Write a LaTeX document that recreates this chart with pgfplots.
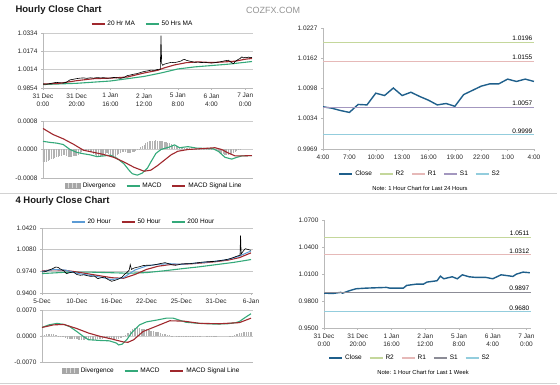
\documentclass[border=0pt]{standalone}
\usepackage{fontspec}
\setmainfont{Liberation Sans}
\usepackage{pgfplots}
\pgfplotsset{compat=1.18}
\definecolor{mared}{HTML}{A0282D}
\definecolor{magreen}{HTML}{34A97A}
\definecolor{mablue}{HTML}{5B9BD5}
\definecolor{closeblue}{HTML}{1F5F8B}
\definecolor{rtwo}{HTML}{C4D79B}
\definecolor{rone}{HTML}{E6B9B8}
\definecolor{sone}{HTML}{A397BF}
\definecolor{sonegray}{HTML}{8C8C96}
\definecolor{stwo}{HTML}{93CDDD}
\pgfplotsset{
  cz/.style={scale only axis, anchor=north west,
    axis x line*=bottom, axis y line*=left,
    axis line style={-,gray!55,line width=0.5pt},
    every tick/.style={gray!55, line width=0.5pt},
    tick align=outside, major tick length=2pt,
    scaled y ticks=false, scaled x ticks=false,
    ticklabel style={font=\fontsize{6.5}{8.6}\selectfont, text=black!85},
    xticklabel style={align=center},
    legend columns=-1,
    legend style={draw=none, fill=none, inner sep=1pt, font=\fontsize{6.5}{7}\selectfont,
      /tikz/every even column/.append style={column sep=8pt}},
    legend image code/.code={\draw[##1, line width=1.8pt] (0pt,0pt) -- (13pt,0pt);},
    grid style={gray!40, line width=0.5pt},
  },
  divleg/.style={legend image code/.code={\fill[gray!70] (0pt,-2.5pt) rectangle (15pt,2.5pt);
      \draw[gray!30, line width=0.5pt] (3pt,-2.5pt) -- (3pt,2.5pt) (7pt,-2.5pt) -- (7pt,2.5pt) (11pt,-2.5pt) -- (11pt,2.5pt);}},
}
\begin{document}
\begin{tikzpicture}[x=1pt,y=1pt]
\useasboundingbox (0,0) rectangle (560,385);
\node[anchor=west, font=\fontsize{9.5}{11}\bfseries\selectfont, text=black!90] at (12,375) {Hourly Close Chart};
\node[anchor=west, font=\fontsize{9}{11}\selectfont, text=gray!85, inner sep=0pt] at (246,375) {COZFX.COM};
\node[anchor=west, font=\fontsize{9.5}{11}\bfseries\selectfont, text=black!90] at (12,184) {4 Hourly Close Chart};
\draw[gray!35, line width=0.6pt] (0,192) -- (557,192);
\draw[gray!35, line width=0.6pt] (0,2) -- (557,2);

% ---------------- top-left price
\begin{axis}[cz, at={(43pt,352pt)}, width=210pt, height=55pt,
  xmin=0, xmax=124.6, ymin=0.9854, ymax=1.0334,
  ytick={0.9854,1.0014,1.0174,1.0334}, yticklabels={0.9854,1.0014,1.0174,1.0334},
  ymajorgrids,
  xtick={0,20,40,60,80,100,120},
  xticklabels={{31 Dec\\0:00},{31 Dec\\20:00},{1 Jan\\16:00},{2 Jan\\12:00},{5 Jan\\8:00},{6 Jan\\4:00},{7 Jan\\0:00}},
  legend style={at={(0.474,1.164)}, anchor=center}]
\addplot[magreen, line width=1.1pt, forget plot] coordinates {(0,0.9884)(20,0.9895)(40,0.9915)(60,0.9955)(70,0.9985)(80,1.0020)(90,1.0038)(100,1.0050)(110,1.0062)(124,1.0085)};
\addplot[mared, line width=1.1pt, forget plot] coordinates {(0,0.9888)(10,0.9895)(20,0.9918)(30,0.9935)(40,0.9940)(50,0.9950)(60,0.9985)(68,1.0008)(72,1.0030)(78,1.0055)(85,1.0075)(92,1.0082)(100,1.0076)(108,1.0082)(114,1.0088)(120,1.0105)(124,1.0112)};
\addplot[black, line width=0.6pt, forget plot] coordinates {(0,0.9889)(2,0.9887)(4,0.9892)(6,0.9898)(8,0.9903)(10,0.9900)(12,0.9897)(14,0.9905)(16,0.9925)(18,0.9930)(20,0.9936)(22,0.9940)(24,0.9942)(26,0.9938)(28,0.9943)(30,0.9940)(32,0.9945)(34,0.9942)(36,0.9944)(38,0.9940)(40,0.9941)(42,0.9946)(44,0.9943)(46,0.9938)(48,0.9945)(50,0.9962)(52,0.9968)(54,0.9975)(56,0.9980)(58,0.9990)(60,0.9998)(62,1.0003)(64,1.0010)(66,1.0008)(68,1.0016)(69.6,1.0018)(70,1.0311)(70.4,1.0070)(71,1.0052)(72,1.0062)(74,1.0070)(76,1.0078)(78,1.0075)(80,1.0082)(82,1.0090)(83,1.0100)(84,1.0104)(85,1.0096)(86,1.0092)(88,1.0085)(90,1.0078)(92,1.0080)(94,1.0076)(96,1.0078)(98,1.0074)(100,1.0072)(102,1.0075)(104,1.0080)(106,1.0085)(108,1.0092)(110,1.0096)(111,1.0085)(112,1.0075)(113,1.0066)(114,1.0085)(116,1.0105)(117,1.0112)(118,1.0126)(119,1.0116)(120,1.0122)(121,1.0118)(122,1.0124)(123,1.0119)(124,1.0121)};
\addlegendimage{mared}\addlegendentry{20 Hr MA}
\addlegendimage{magreen}\addlegendentry{50 Hrs MA}
\end{axis}

% ---------------- top-left MACD
\begin{axis}[cz, at={(43pt,264pt)}, width=210pt, height=57pt,
  xmin=0, xmax=124.6, ymin=-0.0008, ymax=0.0008, xtick=\empty,
  ytick={-0.0008,0,0.0008}, yticklabels={-0.0008,0.0000,0.0008}, ymajorgrids,
  legend style={at={(0.529,-0.14)}, anchor=center}]
\addplot[ycomb, gray!60, line width=1.1pt, divleg] coordinates {(0,-0.00036)(1,-0.00035)(2,-0.00034)(3,-0.00032)(4,-0.00030)(5,-0.00028)(6,-0.00026)(7,-0.00024)(8,-0.00022)(9,-0.00020)(10,-0.00018)(11,-0.00017)(12,-0.00016)(13,-0.00015)(14,-0.00019)(15,-0.00020)(16,-0.00021)(17,-0.00020)(18,-0.00019)(19,-0.00018)(20,-0.00017)(21,-0.00015)(22,-0.00012)(23,-0.00008)(24,-0.00005)(25,-0.00003)(26,-0.00002)(27,-0.00003)(28,-0.00005)(29,-0.00008)(30,-0.00012)(31,-0.00016)(32,-0.00020)(33,-0.00022)(34,-0.00021)(35,-0.00019)(36,-0.00016)(37,-0.00013)(38,-0.00010)(39,-0.00014)(40,-0.00018)(41,-0.00022)(42,-0.00023)(43,-0.00020)(44,-0.00016)(45,-0.00012)(46,-0.00009)(47,-0.00007)(48,-0.00006)(49,-0.00008)(50,-0.00010)(51,-0.00011)(52,-0.00010)(53,-0.00008)(54,-0.00006)(55,-0.00004)(56,-0.00002)(57,0.00002)(58,0.00006)(59,0.00010)(60,0.00014)(61,0.00018)(62,0.00021)(63,0.00024)(64,0.00025)(65,0.00024)(66,0.00025)(67,0.00026)(68,0.00025)(69,0.00024)(70,0.00025)(71,0.00023)(72,0.00022)(73,0.00020)(74,0.00018)(75,0.00017)(76,0.00015)(77,0.00013)(78,0.00011)(79,0.00009)(80,0.00007)(81,0.00006)(82,0.00005)(83,0.00005)(84,0.00004)(85,0.00004)(86,0.00003)(87,0.00003)(88,0.00002)(89,0.00002)(90,0.00001)(91,0.00001)(92,0.00001)(93,0.00001)(94,0.00001)(95,0.00001)(96,0.00001)(97,0.00001)(98,0.00001)(99,0.00001)(100,0.00001)(101,0)(102,-0.00001)(103,-0.00003)(104,-0.00006)(105,-0.00009)(106,-0.00012)(107,-0.00014)(108,-0.00015)(109,-0.00016)(110,-0.00015)(111,-0.00014)(112,-0.00012)(113,-0.00010)(114,-0.00007)(115,-0.00004)(116,-0.00002)(117,-0.00001)};
\addlegendentry{Divergence}
\addplot[magreen, line width=1.1pt] coordinates {(0,0.00023)(4,0.00020)(8,0.00018)(12,0.00014)(16,0.00000)(20,-0.00008)(24,-0.00012)(28,-0.00015)(32,-0.00020)(36,-0.00018)(40,-0.00016)(44,-0.00025)(48,-0.00040)(51,-0.00058)(53,-0.00068)(56,-0.00072)(59,-0.00066)(62,-0.00052)(64,-0.00035)(67,-0.00011)(70,0.00000)(75,0.00007)(78,0.00013)(81,0.00005)(86,0.00008)(91,0.00004)(96,0.00003)(101,0.00002)(104,-0.00005)(108,-0.00022)(112,-0.00027)(115,-0.00022)(118,-0.00018)(124,-0.00017)};
\addlegendentry{MACD}
\addplot[mared, line width=1.1pt] coordinates {(0,0.00059)(6,0.00042)(12,0.00030)(18,0.00015)(24,-0.00002)(30,-0.00008)(36,-0.00014)(42,-0.00022)(48,-0.00035)(54,-0.00050)(60,-0.00061)(64,-0.00058)(68,-0.00045)(72,-0.00030)(76,-0.00015)(80,-0.00005)(86,0.00000)(96,0.00003)(102,0.00005)(106,0.00000)(110,-0.00010)(114,-0.00018)(118,-0.00018)(124,-0.00017)};
\addlegendentry{MACD Signal Line}
\end{axis}

% ---------------- top-right
\begin{axis}[cz, at={(323pt,357pt)}, width=211pt, height=121pt,
  xmin=0, xmax=24, ymin=0.9969, ymax=1.0227,
  ytick={0.9969,1.0034,1.0098,1.0162,1.0227}, yticklabels={0.9969,1.0034,1.0098,1.0162,1.0227},
  xtick={0,3,6,9,12,15,18,21,24}, xticklabels={4:00,7:00,10:00,13:00,16:00,19:00,22:00,1:00,4:00},
  legend style={at={(0.46,-0.207)}, anchor=center, /tikz/every even column/.append style={column sep=5pt}}]
\addplot[closeblue, line width=1.4pt] coordinates {(0,1.0059)(1,1.0056)(2,1.0051)(3,1.0047)(4,1.0064)(5,1.0063)(6,1.0088)(7,1.0083)(8,1.0099)(9,1.0083)(10,1.0090)(11,1.0081)(12,1.0073)(13,1.0063)(14,1.0066)(15,1.0060)(16,1.0085)(17,1.0094)(18,1.0103)(19,1.0108)(20,1.0108)(21,1.0118)(22,1.0113)(23,1.0118)(24,1.0113)};
\addlegendentry{Close}
\addplot[rtwo, line width=1pt] coordinates {(0,1.0196)(24,1.0196)};\addlegendentry{R2}
\addplot[rone, line width=1pt] coordinates {(0,1.0155)(24,1.0155)};\addlegendentry{R1}
\addplot[sone, line width=1pt] coordinates {(0,1.0057)(24,1.0057)};\addlegendentry{S1}
\addplot[stwo, line width=1pt] coordinates {(0,0.9999)(24,0.9999)};\addlegendentry{S2}
\node[anchor=south east, font=\fontsize{6.5}{7}\selectfont, inner sep=1.5pt] at (axis cs:24,1.0196) {1.0196};
\node[anchor=south east, font=\fontsize{6.5}{7}\selectfont, inner sep=1.5pt] at (axis cs:24,1.0155) {1.0155};
\node[anchor=south east, font=\fontsize{6.5}{7}\selectfont, inner sep=1.5pt] at (axis cs:24,1.0057) {1.0057};
\node[anchor=south east, font=\fontsize{6.5}{7}\selectfont, inner sep=1.5pt] at (axis cs:24,0.9999) {0.9999};
\end{axis}
\node[font=\fontsize{5.8}{7}\selectfont] at (420,197) {Note: 1 Hour Chart for Last 24 Hours};

% ---------------- bottom-left price
\begin{axis}[cz, at={(42pt,157pt)}, width=211pt, height=65pt,
  xmin=0, xmax=181.7, ymin=0.94, ymax=1.042,
  ytick={0.94,0.974,1.008,1.042}, yticklabels={0.9400,0.9740,1.0080,1.0420}, ymajorgrids,
  grid style={gray!45, line width=0.8pt},
  xtick={0,30,60,90,120,150,180}, xticklabels={5-Dec,10-Dec,16-Dec,22-Dec,25-Dec,31-Dec,6-Jan},
  legend style={at={(0.481,1.092)}, anchor=center}]
\addplot[magreen, line width=1.1pt, forget plot] coordinates {(0,0.9705)(20,0.9725)(40,0.9728)(60,0.9718)(75,0.9710)(90,0.9720)(105,0.9748)(120,0.9780)(135,0.9810)(150,0.9845)(165,0.9880)(180,0.9925)};
\addplot[mared, line width=1.1pt, forget plot] coordinates {(0,0.9745)(10,0.9765)(20,0.9755)(30,0.9730)(40,0.9700)(50,0.9670)(60,0.9640)(70,0.9630)(80,0.9690)(90,0.9770)(100,0.9820)(110,0.9845)(120,0.9850)(130,0.9860)(140,0.9875)(150,0.9892)(160,0.9915)(170,0.9955)(180,1.0030)};
\addplot[mablue, line width=1pt, forget plot] coordinates {(0,0.9735)(10,0.9770)(20,0.9760)(30,0.9710)(40,0.9680)(50,0.9650)(60,0.9610)(70,0.9640)(80,0.9760)(90,0.9825)(100,0.9850)(110,0.9860)(120,0.9850)(130,0.9865)(140,0.9882)(150,0.9900)(160,0.9925)(170,0.9980)(180,1.0060)};
\addplot[black, line width=0.6pt, forget plot] coordinates {(0,0.9730)(3,0.9735)(6,0.9760)(9,0.9781)(12,0.9808)(14,0.9800)(16,0.9775)(19,0.9745)(21,0.9703)(24,0.9720)(27,0.9730)(30,0.9690)(33,0.9678)(36,0.9685)(39,0.9672)(42,0.9660)(45,0.9668)(48,0.9625)(51,0.9640)(54,0.9650)(57,0.9610)(60,0.9584)(63,0.9600)(66,0.9620)(69,0.9650)(71,0.9692)(73,0.9720)(75,0.9756)(76,0.9844)(77,0.9770)(79,0.9790)(81,0.9800)(84,0.9812)(87,0.9830)(90,0.9835)(93,0.9835)(96,0.9840)(99,0.9850)(102,0.9862)(106,0.9876)(109,0.9860)(112,0.9842)(115,0.9835)(118,0.9845)(120,0.9855)(124,0.9860)(128,0.9862)(132,0.9870)(136,0.9880)(140,0.9887)(144,0.9893)(148,0.9895)(152,0.9905)(156,0.9915)(160,0.9929)(163,0.9945)(166,0.9965)(169,0.9985)(170.5,0.9992)(171,1.0305)(171.5,1.0010)(173,1.0050)(175,1.0095)(177,1.0085)(179,1.0075)(180,1.0070)};
\addlegendimage{mablue}\addlegendentry{20 Hour}
\addlegendimage{mared}\addlegendentry{50 Hour}
\addlegendimage{magreen}\addlegendentry{200 Hour}
\end{axis}

% ---------------- bottom-left MACD
\begin{axis}[cz, at={(42pt,75pt)}, width=211pt, height=52pt,
  xmin=0, xmax=181.7, ymin=-0.007, ymax=0.007, xtick=\empty,
  ytick={-0.007,0,0.007}, yticklabels={-0.0070,0.0000,0.0070}, ymajorgrids,
  legend style={at={(0.521,-0.173)}, anchor=center}]
\addplot[ycomb, gray!60, line width=1.4pt, divleg] coordinates {(0,0.0003)(2,0.0004)(4,0.0005)(6,0.0005)(8,0.0006)(10,0.0005)(12,0.0003)(14,0.0001)(16,-0.0001)(18,-0.0003)(20,-0.0005)(22,-0.0007)(24,-0.0008)(26,-0.0009)(28,-0.0008)(30,-0.0009)(32,-0.0010)(34,-0.0011)(36,-0.0010)(38,-0.0009)(40,-0.0010)(42,-0.0011)(44,-0.0012)(46,-0.0010)(48,-0.0009)(50,-0.0008)(52,-0.0007)(54,-0.0006)(56,-0.0006)(58,-0.0006)(60,-0.0007)(62,-0.0008)(64,-0.0009)(66,-0.0008)(68,-0.0006)(70,-0.0002)(72,0.0003)(74,0.0008)(76,0.0013)(78,0.0018)(80,0.0021)(82,0.0023)(84,0.0022)(86,0.0020)(88,0.0019)(90,0.0018)(92,0.0016)(94,0.0014)(96,0.0013)(98,0.0012)(100,0.0010)(102,0.0008)(104,0.0006)(106,0.0005)(108,0.0004)(110,0.0002)(112,0.0001)(114,0)(116,-0.0001)(118,-0.0002)(120,-0.0003)(122,-0.0003)(124,-0.0003)(126,-0.0002)(128,-0.0002)(130,-0.0002)(132,-0.0001)(134,-0.0001)(136,-0.0001)(138,0)(140,0)(142,-0.0001)(144,-0.0001)(146,-0.0001)(148,-0.0001)(150,-0.0001)(152,0)(154,0)(156,0)(158,0)(160,0)(162,0.0001)(164,0.0001)(166,0.0003)(168,0.0005)(170,0.0007)(172,0.0009)(174,0.0010)(176,0.0011)(178,0.0012)(180,0.0012)};
\addlegendentry{Divergence}
\addplot[magreen, line width=1.1pt] coordinates {(0,0.0023)(6,0.0030)(13,0.0034)(19,0.0031)(24,0.0025)(30,0.0012)(36,-0.0002)(40,-0.0010)(50,-0.0012)(58,-0.0013)(64,-0.0019)(66,-0.0024)(69,-0.0022)(73,-0.0010)(77,0.0008)(84,0.0030)(90,0.0038)(99,0.0043)(107,0.0048)(113,0.0048)(124,0.0037)(135,0.0034)(150,0.0032)(160,0.0033)(167,0.0036)(170,0.0039)(175,0.0050)(180,0.0060)};
\addlegendentry{MACD}
\addplot[mared, line width=1.1pt] coordinates {(0,0.0023)(10,0.0030)(19,0.0031)(30,0.0020)(40,0.0008)(50,-0.0001)(60,-0.0008)(70,-0.0016)(74,-0.0017)(79,-0.0010)(87,0.0012)(99,0.0027)(110,0.0041)(122,0.0040)(136,0.0034)(153,0.0033)(170,0.0036)(180,0.0048)};
\addlegendentry{MACD Signal Line}
\end{axis}

% ---------------- bottom-right
\begin{axis}[cz, at={(324pt,165pt)}, width=207pt, height=108pt,
  xmin=0, xmax=122.7, ymin=0.95, ymax=1.07,
  ytick={0.95,0.98,1.01,1.04,1.07}, yticklabels={0.9500,0.9800,1.0100,1.0400,1.0700},
  xtick={0,20,40,60,80,100,120},
  xticklabels={{31 Dec\\0:00},{31 Dec\\20:00},{1 Jan\\16:00},{2 Jan\\12:00},{5 Jan\\8:00},{6 Jan\\4:00},{7 Jan\\0:00}},
  legend style={at={(0.415,-0.278)}, anchor=center, /tikz/every even column/.append style={column sep=5pt}}]
\addplot[closeblue, line width=1.4pt] coordinates {(0,0.9888)(5,0.9883)(10,0.9896)(11,0.9887)(15,0.9914)(19,0.9936)(25,0.9943)(37,0.9951)(39,0.9943)(47,0.9943)(49,0.9973)(55,0.9988)(59,0.9988)(61,1.0010)(67,1.0025)(69,1.0076)(71,1.0047)(76,1.0069)(79,1.0047)(82,1.0091)(86,1.0069)(90,1.0062)(96,1.0062)(100,1.0047)(105,1.0091)(112,1.0073)(114,1.0098)(118,1.0121)(122,1.0114)};
\addlegendentry{Close}
\addplot[rtwo, line width=1pt] coordinates {(0,1.0511)(122.7,1.0511)};\addlegendentry{R2}
\addplot[rone, line width=1pt] coordinates {(0,1.0312)(122.7,1.0312)};\addlegendentry{R1}
\addplot[sonegray, line width=1pt] coordinates {(0,0.9897)(122.7,0.9897)};\addlegendentry{S1}
\addplot[stwo, line width=1pt] coordinates {(0,0.9680)(122.7,0.9680)};\addlegendentry{S2}
\node[anchor=south east, font=\fontsize{6.5}{7}\selectfont, inner sep=1.5pt] at (axis cs:122.7,1.0511) {1.0511};
\node[anchor=south east, font=\fontsize{6.5}{7}\selectfont, inner sep=1.5pt] at (axis cs:122.7,1.0312) {1.0312};
\node[anchor=south east, font=\fontsize{6.5}{7}\selectfont, inner sep=1.5pt] at (axis cs:122.7,0.9897) {0.9897};
\node[anchor=south east, font=\fontsize{6.5}{7}\selectfont, inner sep=1.5pt] at (axis cs:122.7,0.9680) {0.9680};
\end{axis}
\node[font=\fontsize{5.8}{7}\selectfont] at (423,13) {Note: 1 Hour Chart for Last 1 Week};
\end{tikzpicture}
\end{document}
